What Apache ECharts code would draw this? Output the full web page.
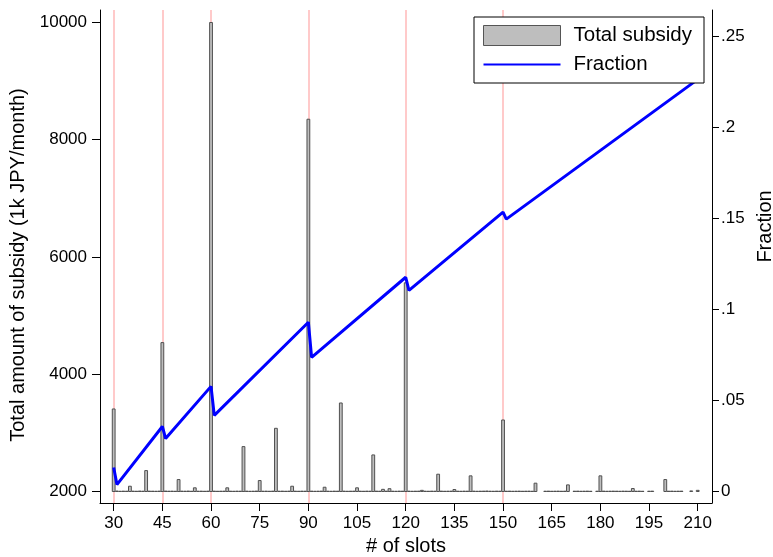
<!DOCTYPE html>
<html><head><meta charset="utf-8">
<script src="https://cdn.jsdelivr.net/npm/echarts@6/dist/echarts.min.js"></script>
<style>html,body{margin:0;padding:0;background:#fff}#c{width:773px;height:557px}</style>
</head><body><div id="c"></div>
<script>
// ---- data ----
const slots = [
  30,31,32,33,34,35,36,37,38,39,40,41,42,43,44,45,46,47,48,49,
  50,51,52,53,54,55,56,57,58,59,60,61,62,63,64,65,66,67,68,69,
  70,71,72,73,74,75,76,77,78,79,80,81,82,83,84,85,86,87,88,89,
  90,91,92,93,94,95,96,97,98,99,100,101,102,103,104,105,106,107,108,109,
  110,111,112,113,114,115,116,117,118,119,120,121,122,123,124,125,126,127,128,129,
  130,131,132,133,134,135,136,137,138,139,140,141,142,143,144,145,146,147,148,149,
  150,151,152,153,154,155,156,157,158,159,160,163,164,165,166,167,168,169,170,
  172,173,174,175,176,177,179,180,181,182,183,184,185,186,187,188,189,190,191,192,193,
  195,196,200,201,202,203,204,205,208,210
];
const subsidy = [
  3408,2008,2004,2006,2005,2090,2006,2004,2007,2005,2357,2006,2005,2004,2006,4540,2007,2005,2006,2004,
  2204,2006,2005,2007,2004,2063,2005,2006,2004,2006,10000,2006,2004,2005,2006,2063,2005,2004,2006,2005,
  2766,2006,2004,2005,2007,2187,2005,2006,2004,2006,3078,2005,2006,2004,2006,2090,2005,2004,2006,2005,
  8350,2006,2004,2005,2006,2073,2005,2004,2006,2005,3510,2006,2004,2005,2006,2063,2005,2004,2006,2005,
  2624,2006,2005,2037,2006,2048,2005,2004,2006,2005,5560,2006,2004,2005,2006,2020,2005,2004,2006,2005,
  2295,2006,2004,2005,2006,2034,2005,2004,2006,2005,2267,2006,2004,2005,2006,2008,2005,2004,2006,2005,
  3220,2005,2006,2004,2005,2006,2004,2005,2006,2004,2142,2005,2006,2004,2005,2006,2004,2005,2113,
  2005,2006,2004,2005,2006,2004,2005,2267,2006,2004,2005,2006,2005,2004,2006,2005,2004,2051,2005,2006,2004,
  2005,2006,2204,2005,2006,2004,2005,2006,2010,2020
];
const fracSlots = [30,31,45,46,60,61,90,91,120,121,150,151,210];
const fraction  = [0.0132,0.0038,0.0357,0.0291,0.0577,0.0418,0.0929,0.0736,0.1176,0.1104,0.1533,0.1495,0.2262];
const thresholds = [30,45,60,90,120,150];
const xTicks = [30,45,60,75,90,105,120,135,150,165,180,195,210];
const yTicks = [2000,4000,6000,8000,10000];
const fracTicks = [0,0.05,0.1,0.15,0.2,0.25];
const baseValue = 2000;

// ---- chart ----
const FONT = 'Liberation Sans, Arial, Helvetica, sans-serif';
const BAR_W = 2.8;
const chart = echarts.init(document.getElementById('c'), null, {renderer:'canvas'});
const axisCommon = {
  axisLine:{show:true, onZero:false, lineStyle:{color:'#000', width:1}},
  splitLine:{show:false}
};
// line-shaped legend icon (invisible corner points keep the box 77x20)
const lineIcon = 'path://M0,0L0.01,0L0.01,0.01Z M0,9L77,9L77,11L0,11Z M76.99,20L77,20L77,19.99Z';
chart.setOption({
  animation:false,
  backgroundColor:'#fff',
  textStyle:{fontFamily:FONT},
  grid:{left:100, right:61, top:10, bottom:54, containLabel:false, outerBoundsMode:'none'},
  legend:{
    orient:'vertical', left:474, top:17, padding:[8,12,8,9],
    itemWidth:77, itemHeight:20, itemGap:8,
    backgroundColor:'#fff', borderColor:'#000', borderWidth:1, borderRadius:0,
    textStyle:{fontSize:20.5, color:'#000', fontFamily:FONT, padding:[0,0,0,8]},
    data:[
      {name:'Total subsidy', icon:'rect', itemStyle:{color:'#bebebe', borderColor:'#555', borderWidth:1}},
      {name:'Fraction', icon:lineIcon, itemStyle:{color:'#0000ff', borderWidth:0}}
    ]
  },
  xAxis:Object.assign({
    type:'value', min:25.78, max:214.4,
    axisTick:{show:true, length:8, customValues:xTicks, lineStyle:{color:'#000'}},
    axisLabel:{customValues:xTicks, fontSize:17, color:'#000', margin:12, fontFamily:FONT,
      formatter:function(v){ return String(v); }},
    name:'# of slots', nameLocation:'middle', nameGap:31,
    nameTextStyle:{fontSize:20, color:'#000', fontFamily:FONT}
  }, axisCommon),
  yAxis:[
    Object.assign({
      type:'value', position:'left', min:1804, max:10213,
      axisTick:{show:true, length:8, customValues:yTicks, lineStyle:{color:'#000'}},
      axisLabel:{customValues:yTicks, fontSize:17, color:'#000', margin:13, fontFamily:FONT,
        formatter:function(v){ return String(v); }},
      name:'Total amount of subsidy (1k JPY/month)', nameLocation:'middle', nameGap:70,
      nameTextStyle:{fontSize:20, color:'#000', fontFamily:FONT, padding:[0,17,0,0]}
    }, axisCommon),
    Object.assign({
      type:'value', position:'right', min:-0.00631, max:0.2643,
      axisTick:{show:true, length:7, customValues:fracTicks, lineStyle:{color:'#000'}},
      axisLabel:{customValues:fracTicks, fontSize:17, color:'#000', margin:9, fontFamily:FONT,
        formatter:function(v){ if (Math.abs(v) < 1e-9) return '0'; return String(+v.toFixed(2)).replace(/^0\./,'.'); }},
      name:'Fraction', nameLocation:'middle', nameGap:40,
      nameTextStyle:{fontSize:20, color:'#000', fontFamily:FONT, padding:[0,0,0,60]}
    }, axisCommon)
  ],
  series:[
    {
      name:'Total subsidy', type:'custom', z:2, clip:true,
      data:slots.map((s,i) => [s, subsidy[i]]),
      encode:{x:0, y:1},
      itemStyle:{color:'#bebebe', borderColor:'#505050', borderWidth:1},
      renderItem:function(params, api){
        const x = api.value(0), v = api.value(1);
        const top = api.coord([x, v]);
        const bot = api.coord([x, baseValue]);
        return {
          type:'rect',
          shape:{x:top[0]-BAR_W/2, y:top[1], width:BAR_W, height:bot[1]-top[1]},
          style:{fill:'#bebebe', stroke:'#505050', lineWidth:1}
        };
      },
      markLine:{
        z:1, silent:true, symbol:['none','none'], label:{show:false},
        lineStyle:{color:'#ffb8b8', width:1.5, type:'solid'},
        emphasis:{disabled:true},
        data:thresholds.map(t => ({xAxis:t}))
      }
    },
    {
      name:'Fraction', type:'line', yAxisIndex:1, z:3,
      data:fracSlots.map((s,i) => [s, fraction[i]]),
      symbol:'none', showSymbol:false,
      lineStyle:{color:'#0000ff', width:3},
      itemStyle:{color:'#0000ff'}
    }
  ]
});
</script></body></html>
